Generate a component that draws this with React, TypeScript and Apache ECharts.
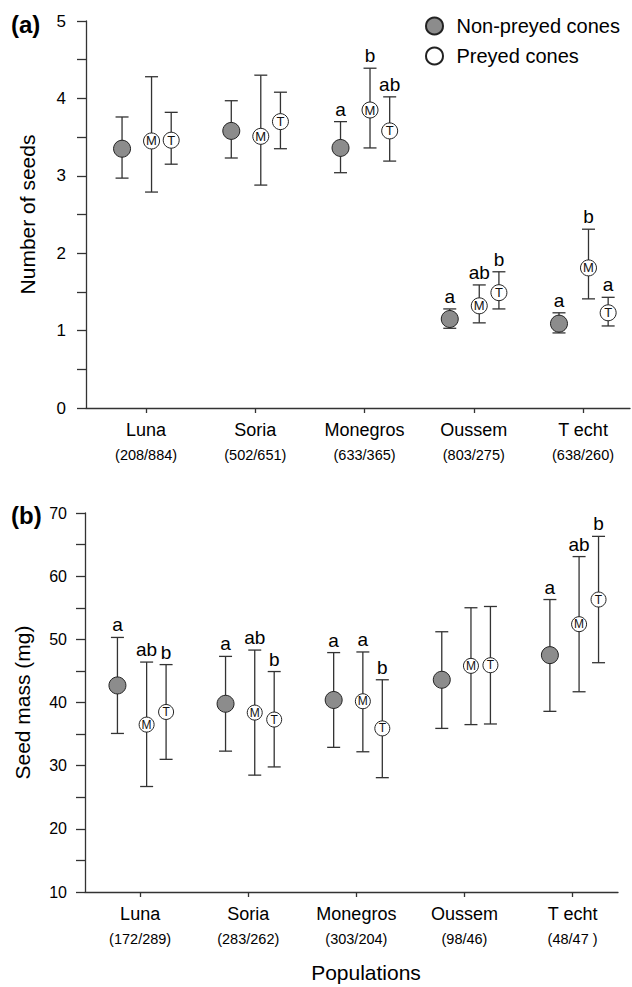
import React, { useEffect, useRef } from "react";
import * as echarts from "echarts";

const FONT = "'Liberation Sans', Arial, sans-serif";

// ---- categories ----
const populations = ["Luna", "Soria", "Monegros", "Oussem", "T echt"];
const seedCounts = ["(208/884)", "(502/651)", "(633/365)", "(803/275)", "(638/260)"];
const massCounts = ["(172/289)", "(283/262)", "(303/204)", "(98/46)", "(48/47 )"];

// ---- (a) number of seeds ----
const npSeedsMean = [3.35, 3.58, 3.36, 1.15, 1.09];
const npSeedsLow = [2.97, 3.23, 3.04, 1.03, 0.97];
const npSeedsHigh = [3.76, 3.97, 3.7, 1.28, 1.23];
const mSeedsMean = [3.45, 3.51, 3.85, 1.32, 1.81];
const mSeedsLow = [2.79, 2.88, 3.36, 1.1, 1.41];
const mSeedsHigh = [4.28, 4.3, 4.39, 1.59, 2.31];
const tSeedsMean = [3.46, 3.7, 3.58, 1.49, 1.23];
const tSeedsLow = [3.15, 3.35, 3.19, 1.28, 1.06];
const tSeedsHigh = [3.82, 4.08, 4.02, 1.76, 1.43];
const npSeedsLetters = ["", "", "a", "a", "a"];
const mSeedsLetters = ["", "", "b", "ab", "b"];
const tSeedsLetters = ["", "", "ab", "b", "a"];

// ---- (b) seed mass ----
const npMassMean = [42.7, 39.8, 40.4, 43.6, 47.5];
const npMassLow = [35.1, 32.3, 32.9, 35.9, 38.6];
const npMassHigh = [50.3, 47.3, 47.9, 51.2, 56.3];
const mMassMean = [36.5, 38.4, 40.2, 45.8, 52.4];
const mMassLow = [26.7, 28.5, 32.2, 36.5, 41.7];
const mMassHigh = [46.4, 48.3, 48.0, 55.0, 63.1];
const tMassMean = [38.5, 37.3, 35.9, 45.9, 56.3];
const tMassLow = [31.0, 29.8, 28.1, 36.6, 46.3];
const tMassHigh = [46.0, 44.9, 43.6, 55.2, 66.3];
const npMassLetters = ["a", "a", "a", "", "a"];
const mMassLetters = ["ab", "ab", "a", "", "ab"];
const tMassLetters = ["b", "b", "b", "", "b"];

const legendNames = ["Non-preyed cones", "Preyed cones"];
const tickPositions = [1, 2, 3, 4, 5];

const LINE = "#333";

function errorSeries(
  axisIdx: number,
  offset: number,
  low: number[],
  high: number[],
  letters: string[]
) {
  return {
    type: "custom",
    xAxisIndex: axisIdx,
    yAxisIndex: axisIdx,
    z: 1,
    silent: true,
    encode: { x: 0, y: [1, 2] },
    data: low.map((l, i) => [i + 1 + offset, l, high[i]]),
    renderItem: (params: any, api: any) => {
      const x = api.value(0);
      const pLo = api.coord([x, api.value(1)]);
      const pHi = api.coord([x, api.value(2)]);
      const cx = pLo[0];
      const w = 6.5;
      const style = { stroke: LINE, lineWidth: 1.3 };
      return {
        type: "group",
        children: [
          { type: "line", shape: { x1: cx, y1: pLo[1], x2: cx, y2: pHi[1] }, style },
          { type: "line", shape: { x1: cx - w, y1: pHi[1], x2: cx + w, y2: pHi[1] }, style },
          { type: "line", shape: { x1: cx - w, y1: pLo[1], x2: cx + w, y2: pLo[1] }, style },
          {
            type: "text",
            style: {
              text: letters[params.dataIndex],
              x: cx,
              y: pHi[1] - 3,
              align: "center",
              verticalAlign: "bottom",
              fontSize: 19,
              fontFamily: FONT,
              fill: "#000",
            },
          },
        ],
      };
    },
  };
}

function pointSeries(
  name: string,
  axisIdx: number,
  offset: number,
  mean: number[],
  filled: boolean,
  letter: string,
  size: number
) {
  return {
    type: "scatter",
    name,
    xAxisIndex: axisIdx,
    yAxisIndex: axisIdx,
    z: 3,
    symbol: "circle",
    symbolSize: size,
    data: mean.map((m, i) => [i + 1 + offset, m]),
    itemStyle: {
      color: filled ? "#8c8c8c" : "#ffffff",
      borderColor: "#222",
      borderWidth: 1,
      opacity: 1,
    },
    label: {
      show: !!letter,
      position: "inside",
      formatter: letter,
      fontSize: size >= 16 ? 13 : 12,
      fontFamily: FONT,
      color: "#111",
      textBorderWidth: 0,
      textBorderColor: "transparent",
    },
  };
}

function xAxisFor(gridIndex: number, min: number, max: number, counts: string[], countLH: number) {
  return {
    type: "value",
    gridIndex,
    min,
    max,
    axisLine: { show: true, onZero: false, lineStyle: { color: LINE, width: 1.3 } },
    axisTick: { show: true, length: 5, customValues: tickPositions, lineStyle: { color: LINE, width: 1.3 } },
    splitLine: { show: false },
    axisLabel: {
      customValues: tickPositions,
      margin: 10,
      formatter: (v: number) => {
        const i = Math.round(v) - 1;
        return `{n|${populations[i]}}\n{c|${counts[i]}}`;
      },
      rich: {
        n: { fontSize: 18, lineHeight: 24, fontFamily: FONT, color: "#000" },
        c: { fontSize: 14.5, lineHeight: countLH, fontFamily: FONT, color: "#000" },
      },
    },
  };
}

export default function App() {
  const ref = useRef<HTMLDivElement>(null);
  useEffect(() => {
    document.body.style.margin = "0";
    if (!ref.current) return;
    const chart = echarts.init(ref.current, null, { renderer: "svg" });
    const offA = [-0.22, 0.05, 0.23];
    const offB = [-0.21, 0.06, 0.24];
    chart.setOption({
      animation: false,
      backgroundColor: "#fff",
      textStyle: { fontFamily: FONT },
      grid: [
        { left: 86, top: 21, width: 544, height: 387 },
        { left: 85, top: 513, width: 533, height: 379 },
      ],
      xAxis: [xAxisFor(0, 0.45, 5.43, seedCounts, 26), xAxisFor(1, 0.49, 5.42, massCounts, 26)],
      yAxis: [
        {
          type: "value",
          gridIndex: 0,
          min: 0,
          max: 5,
          interval: 0.5,
          name: "Number of seeds",
          nameLocation: "middle",
          nameGap: 48,
          nameTextStyle: { fontSize: 21, fontFamily: FONT, color: "#000" },
          axisLine: { show: true, lineStyle: { color: LINE, width: 1.3 } },
          axisTick: { show: true, length: 9, lineStyle: { color: LINE, width: 1.3 } },
          splitLine: { show: false },
          axisLabel: {
            margin: 20,
            fontSize: 17,
            fontFamily: FONT,
            color: "#000",
            formatter: (v: number) => (Number.isInteger(v) ? String(v) : ""),
          },
        },
        {
          type: "value",
          gridIndex: 1,
          min: 10,
          max: 70,
          interval: 5,
          name: "Seed mass (mg)",
          nameLocation: "middle",
          nameGap: 52,
          nameTextStyle: { fontSize: 21, fontFamily: FONT, color: "#000" },
          axisLine: { show: true, lineStyle: { color: LINE, width: 1.3 } },
          axisTick: { show: true, length: 9, lineStyle: { color: LINE, width: 1.3 } },
          splitLine: { show: false },
          axisLabel: {
            margin: 18,
            fontSize: 16,
            fontFamily: FONT,
            color: "#000",
            formatter: (v: number) => (v % 10 === 0 ? String(v) : ""),
          },
        },
      ],
      legend: {
        data: legendNames.map((n) => ({ name: n, icon: "circle" })),
        orient: "vertical",
        left: 425,
        top: 16,
        padding: 0,
        itemWidth: 34,
        itemHeight: 17,
        itemGap: 10,
        selectedMode: false,
        textStyle: { fontSize: 20, fontFamily: FONT, color: "#000" },
      },
      graphic: [
        { type: "text", left: 11, top: 12, style: { text: "(a)", fontSize: 24, fontWeight: "bold", fontFamily: FONT, fill: "#000" } },
        { type: "text", left: 11, top: 503, style: { text: "(b)", fontSize: 24, fontWeight: "bold", fontFamily: FONT, fill: "#000" } },
        {
          type: "text",
          x: 366,
          y: 972,
          style: { text: "Populations", fontSize: 21, fontFamily: FONT, fill: "#000", align: "center", verticalAlign: "middle" },
        },
      ],
      series: [
        errorSeries(0, offA[0], npSeedsLow, npSeedsHigh, npSeedsLetters),
        errorSeries(0, offA[1], mSeedsLow, mSeedsHigh, mSeedsLetters),
        errorSeries(0, offA[2], tSeedsLow, tSeedsHigh, tSeedsLetters),
        pointSeries(legendNames[0], 0, offA[0], npSeedsMean, true, "", 17),
        pointSeries(legendNames[1], 0, offA[1], mSeedsMean, false, "M", 16),
        pointSeries("Preyed cones (T)", 0, offA[2], tSeedsMean, false, "T", 16),
        errorSeries(1, offB[0], npMassLow, npMassHigh, npMassLetters),
        errorSeries(1, offB[1], mMassLow, mMassHigh, mMassLetters),
        errorSeries(1, offB[2], tMassLow, tMassHigh, tMassLetters),
        pointSeries(legendNames[0], 1, offB[0], npMassMean, true, "", 17),
        pointSeries(legendNames[1], 1, offB[1], mMassMean, false, "M", 15),
        pointSeries("Preyed cones (T)", 1, offB[2], tMassMean, false, "T", 15),
      ],
    });
    return () => chart.dispose();
  }, []);
  return <div ref={ref} style={{ width: 632, height: 987 }} />;
}
